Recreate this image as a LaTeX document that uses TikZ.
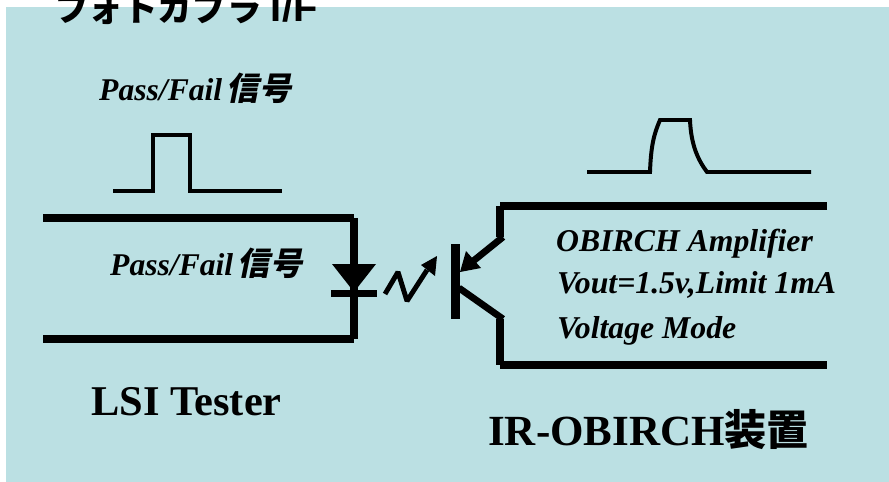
\documentclass[tikz,border=0pt]{standalone}
\usepackage{fontspec}
\setmainfont{Liberation Serif}
\newfontfamily\cjkslant[FakeSlant=0.2]{Noto Sans CJK JP Medium}
\newfontfamily\cjkbold{Noto Sans CJK JP Bold}
\newfontfamily\sansbold{Liberation Sans}
\usetikzlibrary{arrows.meta}
\definecolor{panel}{HTML}{BBE0E3}
\newcommand{\passfail}{Pass/Fail\hspace{4pt}{\cjkslant\fontsize{27.5}{30}\selectfont 信号}}
\tikzset{
  wire/.style={line width=6.8pt,draw=black,line cap=butt},
  pulse/.style={line width=3.4pt,draw=black,line join=miter},
  amptext/.style={font=\bfseries\itshape\fontsize{27.1}{30}\selectfont,anchor=west,inner sep=0pt},
  signal/.style={font=\bfseries\itshape\fontsize{27}{30}\selectfont,anchor=west,inner sep=0pt},
  bigname/.style={font=\bfseries\fontsize{36.2}{40}\selectfont,anchor=west,inner sep=0pt},
  lead/.style={line width=5.8pt,draw=black},
  ray/.style={line width=4.2pt,draw=black,line join=bevel}
}
\begin{document}
\begin{tikzpicture}[x=0.03cm,y=-0.03cm]
    \useasboundingbox (0,0) rectangle (889,482);
    \fill[white] (0,0) rectangle (889,482);
    \fill[panel] (6,7) rectangle (889,482);
    \clip (0,0) rectangle (889,482);
    \node[font=\sansbold\bfseries\fontsize{34}{36}\selectfont,anchor=west,inner sep=0pt] (title) at (54,8) {{\cjkbold\fontsize{29.5}{36}\selectfont フォトカプラ}\hspace{8pt}I/F};

    % pulse shapes
    \draw[pulse] (113,191) -- (153,191) -- (153,135) -- (190,135) -- (190,191) -- (282,191);
    \draw[pulse] (587,172) -- (650,172) .. controls (651,145) and (654,134) .. (660,120) -- (690,120)
      .. controls (691,145) and (698,160) .. (707,172) -- (811,172);
    \node[signal] (sigtop) at (99,88.5) {\passfail};

    % tester side
    \coordinate (ltop) at (43,218);
    \coordinate (lcorner) at (354,218);
    \coordinate (lbot) at (43,339);
    \coordinate (lcorner2) at (354,339);
    \draw[wire] (ltop) -- (lcorner);
    \draw[wire] (lbot) -- (lcorner2);
    \draw[wire] (lcorner) -- (lcorner2);
    \fill (332,264) -- (376,264) -- (354,292) -- cycle;
    \draw[wire] (331,293.5) -- (377,293.5);
    \node[signal] (sigin) at (110,263.5) {\passfail};
    \node[bigname] (tester) at (91,402) {LSI Tester};

    % light
    \coordinate (raystart) at (385,294);
    \coordinate (raytip) at (437,256);
    \draw[ray] (raystart) -- (398,272) -- (407,301) -- (427,270);
    \fill (raytip) -- (421,265) -- (435,276) -- cycle;

    % receiver side
    \coordinate (rtop) at (827,206);
    \coordinate (rcorner) at (500,206);
    \coordinate (remit) at (500,237);
    \coordinate (rcoll) at (500,319);
    \coordinate (rcorner2) at (500,365);
    \coordinate (rbot) at (827,365);
    \draw[wire] (rtop) -- (rcorner);
    \draw[wire] (rcorner) -- (remit);
    \draw[wire] (rcoll) -- (rcorner2);
    \draw[wire] (rcorner2) -- (rbot);
    \draw[line width=8pt] (455.5,244) -- (455.5,319);
    \draw[lead] (503,237) -- (472,262);
    \fill (460,272) -- (466,251) -- (481,268) -- cycle;
    \draw[lead] (459,288) -- (503,319);

    \node[amptext] (amp) at (556,244) {OBIRCH Amplifier};
    \node[amptext] (vout) at (557,285) {Vout=1.5v,Limit 1mA};
    \node[amptext] (mode) at (557,331) {Voltage Mode};
    \node[bigname,font=\bfseries\fontsize{36.7}{44}\selectfont] (device) at (488,430) {IR-OBIRCH{\cjkbold\fontsize{36}{36}\selectfont 装置}};
\end{tikzpicture}
\end{document}
